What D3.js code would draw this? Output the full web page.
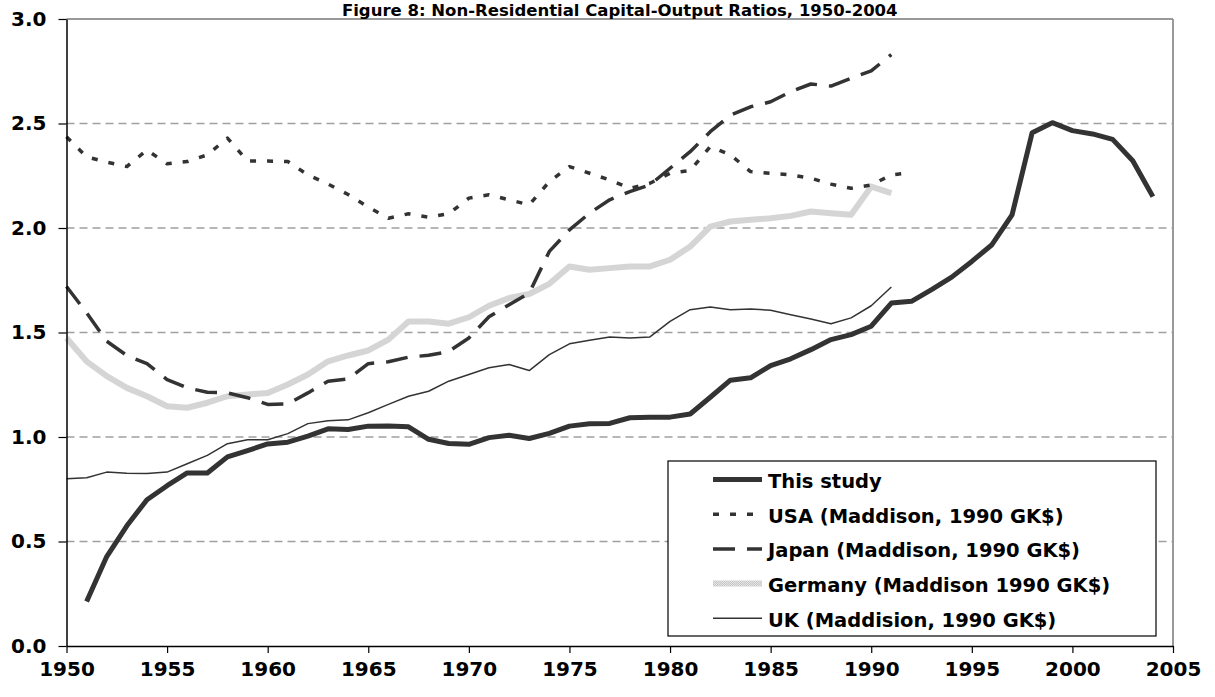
<!DOCTYPE html>
<html>
<head>
<meta charset="utf-8">
<script src="https://cdn.jsdelivr.net/npm/d3@7/dist/d3.min.js"></script>
<style>
  html, body { margin: 0; padding: 0; background: #fff; }
  svg text { font-family: "DejaVu Sans", Verdana, sans-serif; font-weight: bold; fill: #000; }
</style>
</head>
<body>
<svg id="chart" width="1215" height="697"></svg>
<script>
// --- Data ---
const yTicks = [0, 0.5, 1.0, 1.5, 2.0, 2.5, 3.0];
const xTicks = [1950, 1955, 1960, 1965, 1970, 1975, 1980, 1985, 1990, 1995, 2000, 2005];

const studyStart = 1951;
const studyValues = [0.213, 0.428, 0.575, 0.70, 0.767, 0.828, 0.828, 0.905, 0.935, 0.967,
  0.975, 1.004, 1.039, 1.036, 1.052, 1.053, 1.049, 0.989, 0.969, 0.965,
  0.997, 1.008, 0.993, 1.017, 1.052, 1.063, 1.065, 1.092, 1.095, 1.095,
  1.11, 1.19, 1.272, 1.283, 1.342, 1.374, 1.418, 1.466, 1.49, 1.53,
  1.641, 1.649, 1.705, 1.765, 1.84, 1.92, 2.063, 2.456, 2.504, 2.466,
  2.45, 2.424, 2.322, 2.15];

const usaStart = 1950;
const usaValues = [2.437, 2.34, 2.315, 2.294, 2.373, 2.307, 2.318, 2.35, 2.43, 2.32,
  2.32, 2.318, 2.254, 2.21, 2.16, 2.10, 2.047, 2.068, 2.052, 2.068,
  2.143, 2.159, 2.135, 2.111, 2.222, 2.294, 2.262, 2.23, 2.19, 2.214,
  2.262, 2.275, 2.39, 2.35, 2.27, 2.262, 2.254, 2.238, 2.21, 2.19,
  2.206, 2.254, 2.265];

const japanStart = 1950;
const japanValues = [1.72, 1.594, 1.458, 1.39, 1.351, 1.275, 1.235, 1.214, 1.211, 1.188,
  1.156, 1.159, 1.211, 1.267, 1.278, 1.351, 1.36, 1.382, 1.391, 1.409,
  1.474, 1.575, 1.633, 1.689, 1.888, 1.991, 2.071, 2.135, 2.174, 2.206,
  2.286, 2.365, 2.461, 2.54, 2.58, 2.604, 2.652, 2.689, 2.679, 2.716,
  2.752, 2.83];

const germanyStart = 1950;
const germanyValues = [1.474, 1.362, 1.291, 1.235, 1.195, 1.147, 1.14, 1.164, 1.195, 1.203,
  1.211, 1.251, 1.299, 1.362, 1.39, 1.414, 1.466, 1.553, 1.553, 1.542,
  1.573, 1.628, 1.665, 1.684, 1.733, 1.816, 1.80, 1.808, 1.816, 1.816,
  1.848, 1.911, 2.007, 2.031, 2.039, 2.047, 2.058, 2.079, 2.071, 2.063,
  2.198, 2.167];

const ukStart = 1950;
const ukValues = [0.80, 0.805, 0.832, 0.827, 0.825, 0.832, 0.872, 0.912, 0.968, 0.987,
  0.987, 1.016, 1.064, 1.078, 1.082, 1.116, 1.156, 1.195, 1.219, 1.267,
  1.299, 1.331, 1.347, 1.318, 1.394, 1.446, 1.463, 1.479, 1.474, 1.479,
  1.553, 1.609, 1.622, 1.609, 1.613, 1.606, 1.585, 1.565, 1.542, 1.57,
  1.628, 1.718];

const titleText = 'Figure 8: Non-Residential Capital-Output Ratios, 1950-2004';

// series styling, in draw order (first drawn at the bottom)
const series = [
  { name: 'Germany (Maddison 1990 GK$)', start: germanyStart, values: germanyValues, stroke: 'url(#hatch)', width: 6, dash: null, legendRow: 3 },
  { name: 'UK (Maddision, 1990 GK$)', start: ukStart, values: ukValues, stroke: '#333', width: 1.5, dash: null, legendRow: 4 },
  { name: 'USA (Maddison, 1990 GK$)', start: usaStart, values: usaValues, stroke: '#333', width: 3.5, dash: '6,11', legendRow: 1 },
  { name: 'Japan (Maddison, 1990 GK$)', start: japanStart, values: japanValues, stroke: '#333', width: 3.5, dash: '22,12', legendRow: 2 },
  { name: 'This study', start: studyStart, values: studyValues, stroke: '#333', width: 5, dash: null, legendRow: 0 }
];

// --- Layout ---
const W = 1215, H = 697;
const margin = { top: 19, right: 42, bottom: 51, left: 66.5 };
const width  = W - margin.left - margin.right;
const height = H - margin.top - margin.bottom;

const svg = d3.select('#chart');

const defs = svg.append('defs');
const hatch = defs.append('pattern')
  .attr('id', 'hatch')
  .attr('patternUnits', 'userSpaceOnUse')
  .attr('width', 2).attr('height', 2);
hatch.append('rect').attr('width', 2).attr('height', 2).attr('fill', '#e6e6e6');
hatch.append('rect').attr('width', 1).attr('height', 1).attr('fill', '#c4c4c4');
hatch.append('rect').attr('x', 1).attr('y', 1).attr('width', 1).attr('height', 1).attr('fill', '#c4c4c4');

const chart = svg.append('g').attr('transform', `translate(${margin.left},${margin.top})`);

const x = d3.scaleLinear().domain([1950, 2005]).range([0, width]);
const y = d3.scaleLinear().domain([0, 3]).range([height, 0]);

// gridlines (dashed), top border solid
chart.append('g')
  .selectAll('line')
  .data(yTicks.filter(d => d > 0 && d < 3))
  .join('line')
    .attr('x1', 0).attr('x2', width)
    .attr('y1', d => y(d)).attr('y2', d => y(d))
    .attr('stroke', '#a0a0a0')
    .attr('stroke-width', 1.5)
    .attr('stroke-dasharray', '8,5');

chart.append('line')
  .attr('x1', 0).attr('x2', width)
  .attr('y1', y(3)).attr('y2', y(3))
  .attr('stroke', '#999').attr('stroke-width', 2);
chart.append('line')
  .attr('x1', width).attr('x2', width)
  .attr('y1', 0).attr('y2', height)
  .attr('stroke', '#999').attr('stroke-width', 2);

// --- Lines ---
const line = d3.line()
  .x(d => x(d.year))
  .y(d => y(d.value));

series.forEach(s => {
  const pts = s.values.map((v, i) => ({ year: s.start + i, value: v }));
  chart.append('path')
    .datum(pts)
    .attr('fill', 'none')
    .attr('stroke', s.stroke)
    .attr('stroke-width', s.width)
    .attr('stroke-linejoin', 'round')
    .attr('stroke-dasharray', s.dash)
    .attr('d', line);
});

// --- Axes ---
const yAxisG = chart.append('g')
  .call(d3.axisLeft(y)
    .tickValues(yTicks)
    .tickFormat(d3.format('.1f'))
    .tickSizeInner(8)
    .tickSizeOuter(0)
    .tickPadding(12));

const xAxisG = chart.append('g')
  .attr('transform', `translate(0,${height})`)
  .call(d3.axisBottom(x)
    .tickValues(xTicks)
    .tickFormat(d3.format('d'))
    .tickSizeInner(7)
    .tickSizeOuter(0)
    .tickPadding(9));

[yAxisG, xAxisG].forEach(g => {
  g.select('.domain').attr('stroke', '#000').attr('stroke-width', 1.5);
  g.selectAll('.tick line').attr('stroke', '#000').attr('stroke-width', 1.2);
  g.selectAll('.tick text')
    .attr('font-family', '"DejaVu Sans", Verdana, sans-serif')
    .attr('font-weight', 'bold')
    .attr('font-size', 20)
    .attr('fill', '#000');
});

// --- Title ---
svg.append('text')
  .attr('x', margin.left + width / 2)
  .attr('y', 15.5)
  .attr('text-anchor', 'middle')
  .attr('font-size', 16.5)
  .text(titleText);

// --- Legend ---
const legend = svg.append('g').attr('transform', 'translate(668,461)');
legend.append('rect')
  .attr('width', 488).attr('height', 175)
  .attr('fill', '#fff')
  .attr('stroke', '#000')
  .attr('stroke-width', 1.2);

const rowBase = 27, rowStep = 34.7;
series.forEach(s => {
  const base = rowBase + s.legendRow * rowStep;
  legend.append('line')
    .attr('x1', 45).attr('x2', 94)
    .attr('y1', base - 8.5).attr('y2', base - 8.5)
    .attr('stroke', s.stroke)
    .attr('stroke-width', s.width)
    .attr('stroke-dasharray', s.dash);
  legend.append('text')
    .attr('x', 100)
    .attr('y', base)
    .attr('font-size', 19.5)
    .text(s.name);
});
</script>
</body>
</html>
